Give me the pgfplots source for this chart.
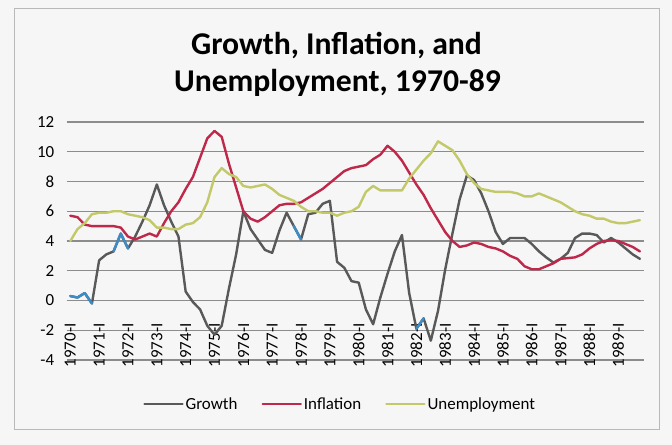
\documentclass[border=0pt]{standalone}
\usepackage{fontspec}
\setmainfont{Carlito}
\usepackage{pgfplots}
\usepackage{pgfplotstable}
\pgfplotsset{compat=1.18}

\definecolor{growth}{RGB}{89,89,89}
\definecolor{inflation}{RGB}{190,40,75}
\definecolor{unemp}{RGB}{195,200,105}
\definecolor{hilite}{RGB}{60,140,200}
\definecolor{gridc}{RGB}{140,140,140}
\definecolor{bg}{RGB}{246,246,246}

% quarter index (0 = 1970-I), growth, inflation, unemployment
\pgfplotstableread{
q  g     inf    u
0  0.3   5.7    4.0
1  0.2   5.6    4.8
2  0.5   5.1    5.2
3  -0.2  5.0    5.8
4  2.7   5.0    5.9
5  3.1   5.0    5.9
6  3.3   5.0    6.0
7  4.5   4.9    6.0
8  3.5   4.3    5.8
9  4.3   4.1    5.7
10 5.3   4.3    5.6
11 6.4   4.5    5.4
12 7.8   4.3    4.9
13 6.4   5.2    4.9
14 5.3   6.0    4.8
15 4.3   6.6    4.8
16 0.6   7.5    5.1
17 -0.1  8.3    5.2
18 -0.6  9.6    5.6
19 -1.7  10.9   6.6
20 -2.3  11.4   8.3
21 -1.7  11.0   8.9
22 0.8   9.2    8.5
23 3.1   7.6    8.3
24 6.0   6.0    7.7
25 4.8   5.5    7.6
26 4.1   5.3    7.7
27 3.4   5.6    7.8
28 3.2   6.0    7.5
29 4.7   6.4    7.1
30 5.9   6.5    6.9
31 5.0   6.5    6.7
32 4.1   6.6    6.3
33 5.8   6.9    6.0
34 5.9   7.2    6.0
35 6.5   7.5    5.9
36 6.7   7.9    5.9
37 2.6   8.3    5.7
38 2.2   8.7    5.9
39 1.3   8.9    6.0
40 1.2   9.0    6.3
41 -0.6  9.1    7.3
42 -1.6  9.5    7.7
43 0.2   9.8    7.4
44 1.8   10.4   7.4
45 3.3   10.0   7.4
46 4.4   9.4    7.4
47 0.5   8.6    8.2
48 -1.9  7.8    8.8
49 -1.2  7.1    9.4
50 -2.7  6.2    9.9
51 -0.7  5.4    10.7
52 2.1   4.6    10.4
53 4.5   4.0    10.1
54 6.8   3.6    9.4
55 8.4   3.7    8.5
56 8.1   3.9    7.9
57 7.2   3.8    7.5
58 6.0   3.6    7.4
59 4.6   3.5    7.3
60 3.8   3.3    7.3
61 4.2   3.0    7.3
62 4.2   2.8    7.2
63 4.2   2.3    7.0
64 3.8   2.1    7.0
65 3.3   2.1    7.2
66 2.9   2.3    7.0
67 2.55  2.5    6.8
68 2.8   2.8    6.6
69 3.2   2.85   6.3
70 4.2   2.9    6.0
71 4.5   3.1    5.8
72 4.5   3.5    5.7
73 4.4   3.8    5.5
74 3.9   4.0    5.5
75 4.2   4.05   5.3
76 3.9   4.0    5.2
77 3.5   3.8    5.2
78 3.1   3.6    5.3
79 2.8   3.3    5.4
}\data

\begin{document}
\begin{tikzpicture}[x=1bp,y=1bp]
\fill[bg] (0,0) rectangle (672,445);
\draw[gray!55, line width=1bp] (14,15) rectangle (659,436);
\node[font=\fontsize{31.8}{36}\selectfont\bfseries, anchor=base] at (336.5,390) {Growth, Inflation, and};
\node[font=\fontsize{31.8}{36}\selectfont\bfseries, anchor=base] at (337.5,353) {Unemployment, 1970-89};
\begin{axis}[
    at={(66.7bp,85bp)}, anchor=south west,
    scale only axis, width=576.8bp, height=238bp,
    xmin=-0.5, xmax=79.5, ymin=-4, ymax=12,
    ytick={-4,-2,...,12},
    xtick={0,4,...,76},
    xticklabels={1970-I,1971-I,1972-I,1973-I,1974-I,1975-I,1976-I,1977-I,1978-I,1979-I,
                 1980-I,1981-I,1982-I,1983-I,1984-I,1985-I,1986-I,1987-I,1988-I,1989-I},
    ymajorgrids, grid style={gridc, line width=1.3bp},
    axis line style={draw=none},
    major tick length=0pt,
    tick label style={font=\fontsize{17}{20}\selectfont},
    /pgf/number format/assume math mode=true,
    yticklabel style={anchor=east, xshift=-9bp},
    xticklabel style={yshift=40bp, rotate=90, anchor=east},
    legend columns=3,
    legend image code/.code={\draw[#1] (0bp,0bp) -- (38bp,0bp);},
    legend style={at={(0.474,-0.185)}, anchor=center, draw=none, fill=none,
                  font=\fontsize{17}{20}\selectfont,
                  /tikz/every even column/.append style={column sep=22bp}},
    every axis plot/.append style={line width=2.4bp, line join=round, line cap=round},
]
\addplot[growth] table[x=q, y=g] {\data};
\addlegendentry{Growth}
\addplot[hilite, forget plot] coordinates {(0,0.3) (1,0.2) (2,0.5) (3,-0.2)};
\addplot[hilite, forget plot] coordinates {(6,3.3) (7,4.5) (8,3.5)};
\addplot[hilite, forget plot] coordinates {(31,5.0) (32,4.1)};
\addplot[hilite, forget plot] coordinates {(48,-1.9) (49,-1.2)};
\addplot[inflation] table[x=q, y=inf] {\data};
\addlegendentry{Inflation}
\addplot[unemp] table[x=q, y=u] {\data};
\addlegendentry{Unemployment}
\end{axis}
\end{tikzpicture}
\end{document}
